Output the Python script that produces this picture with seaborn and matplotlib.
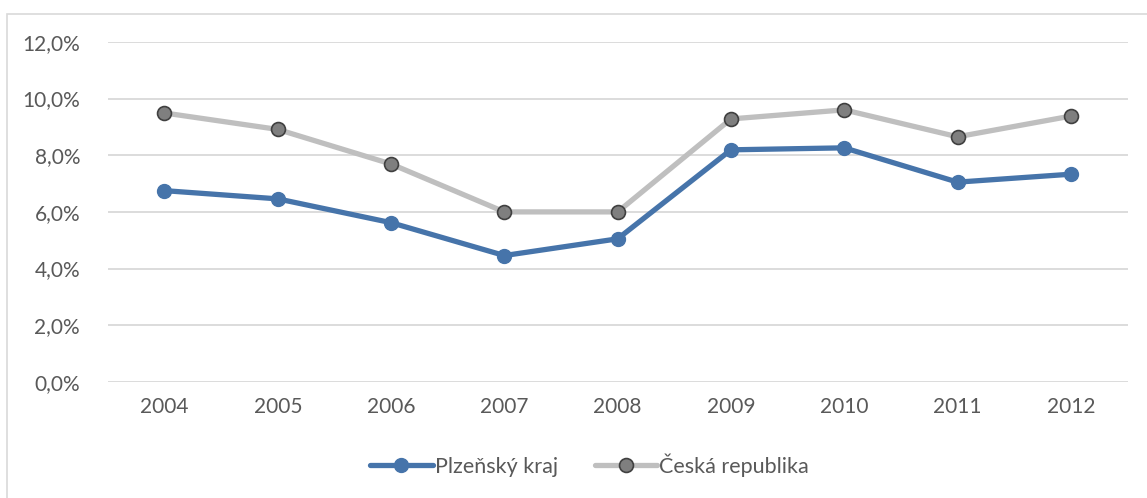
import matplotlib
matplotlib.use("Agg")
import matplotlib.pyplot as plt
import matplotlib.ticker as mticker
from matplotlib.patches import Rectangle
import pandas as pd
import seaborn as sns

years = ["2004", "2005", "2006", "2007", "2008", "2009", "2010", "2011", "2012"]
plzen = [6.75, 6.46, 5.62, 4.46, 5.05, 8.19, 8.26, 7.05, 7.33]
cr = [9.49, 8.91, 7.69, 6.00, 6.00, 9.28, 9.60, 8.65, 9.38]
series_names = ["Plzeňský kraj", "Česká republika"]

df = pd.DataFrame({"rok": years, "plzen": [v / 100 for v in plzen], "cr": [v / 100 for v in cr]})

sns.set_style("white")
plt.rcParams["font.family"] = ["Lato", "DejaVu Sans"]
text_col = "#595959"

fig = plt.figure(figsize=(11.47, 4.98), dpi=100)
ax = fig.add_axes([0.094, 0.233, 0.889, 0.683])

# outer chart border
fig.patches.append(Rectangle((0.006, -0.01), 1.2, 0.982, transform=fig.transFigure,
                             fill=False, edgecolor="#D9D9D9", linewidth=1.2))

sns.lineplot(data=df, x="rok", y="cr", ax=ax, color="#BFBFBF", linewidth=3.8,
             marker="o", markersize=10, markerfacecolor="#7F7F7F",
             markeredgecolor="#404040", markeredgewidth=1.2,
             label=series_names[1], clip_on=False, zorder=3)
sns.lineplot(data=df, x="rok", y="plzen", ax=ax, color="#4674AA", linewidth=3.8,
             marker="o", markersize=10, markerfacecolor="#4674AA",
             markeredgecolor="#4674AA", markeredgewidth=1.0,
             label=series_names[0], clip_on=False, zorder=4)

ax.set_xlim(-0.5, len(years) - 0.5)
ax.set_ylim(0, 0.12)
ax.set_yticks([0, 0.02, 0.04, 0.06, 0.08, 0.10, 0.12])
ax.yaxis.set_major_formatter(mticker.FuncFormatter(lambda v, p: f"{v * 100:.1f}%".replace(".", ",")))
ax.grid(axis="y", color="#D9D9D9", linewidth=1.3)
ax.set_axisbelow(True)
for s in ax.spines.values():
    s.set_visible(False)
ax.tick_params(axis="both", length=0, labelsize=15, colors=text_col)
ax.tick_params(axis="x", pad=11)
ax.tick_params(axis="y", pad=20)
ax.set_xlabel("")
ax.set_ylabel("")

handles, labels = ax.get_legend_handles_labels()
order = [labels.index(n) for n in series_names]
ax.legend([handles[i] for i in order], [labels[i] for i in order],
          loc="center", bbox_to_anchor=(0.514, 0.066), bbox_transform=fig.transFigure,
          ncol=2, frameon=False, fontsize=15.5, labelcolor=text_col,
          handlelength=2.9, handletextpad=0.1, columnspacing=1.7)

fig.savefig("out.png", dpi=100)
